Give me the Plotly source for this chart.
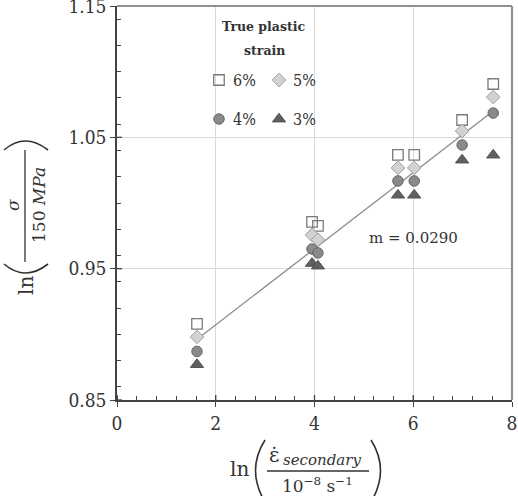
import plotly.graph_objects as go

# ---------------- data ----------------
rate_x = [1.62, 3.95, 4.07, 5.69, 6.02, 6.99, 7.62]
strain6 = [0.908, 0.9856, 0.9826, 1.0366, 1.0366, 1.0632, 1.0906]
strain5 = [0.898, 0.9757, 0.9720, 1.0267, 1.0267, 1.0548, 1.0807]
strain4 = [0.887, 0.9650, 0.9620, 1.0168, 1.0168, 1.0442, 1.0685]
strain3 = [0.877, 0.9540, 0.9520, 1.0060, 1.0060, 1.0327, 1.0365]
fit_x = [1.68, 7.62]
fit_y = [0.898, 1.070]
slope_label = "m = 0.0290"
x_ticks = [0, 2, 4, 6, 8]
y_ticks = [0.85, 0.95, 1.05, 1.15]
legend_labels = ["6%", "5%", "4%", "3%"]

# ---------------- layout geometry ----------------
W, H = 518, 496
L, R, T, B = 117, 6, 6, 96
PW, PH = W - L - R, H - T - B
FONT = "DejaVu Serif"
TICKFONT = "DejaVu Serif Condensed, DejaVu Serif"
TXT = "#333333"


def px(x):
    return (x - L) / PW


def py(y):
    return (H - B - y) / PH


def note(x, y, text, size, angle=0, anchor="center", family=FONT):
    fig.add_annotation(x=px(x), y=py(y), xref="paper", yref="paper", text=text,
                       showarrow=False, xanchor=anchor, yanchor="middle", textangle=angle,
                       font=dict(family=family, size=size, color=TXT))


fig = go.Figure()

fig.add_trace(go.Scatter(x=fit_x, y=fit_y, mode="lines",
                         line=dict(color="#8c8c8c", width=1.3),
                         showlegend=False, hoverinfo="skip"))

styles = [
    dict(symbol="square-open", size=10.5, color="#7a7a7a", line=dict(color="#7a7a7a", width=1.3)),
    dict(symbol="diamond", size=10.5, color="#d2d2d2", line=dict(color="#a0a0a0", width=1)),
    dict(symbol="circle", size=10.5, color="#8a8a8a", line=dict(color="#666666", width=1)),
    dict(symbol="triangle-up", size=11.5, color="#606060", line=dict(color="#505050", width=1)),
]
for ys, st, lab in zip([strain6, strain5, strain4, strain3], styles, legend_labels):
    fig.add_trace(go.Scatter(x=rate_x, y=ys, mode="markers", marker=st,
                             name=lab, showlegend=False))

# legend symbols (layout decoration) on an overlay axis in paper units
leg_pos = [(219, 80), (279, 80), (219, 119), (279, 119)]
for (lx, ly), st, lab in zip(leg_pos, styles, legend_labels):
    fig.add_trace(go.Scatter(x=[px(lx)], y=[py(ly)], mode="markers", marker=st,
                             xaxis="x2", yaxis="y2", showlegend=False, hoverinfo="skip"))
    note(lx + 12, ly, lab, 16, anchor="left", family=TICKFONT)

note(264, 26, "<b>True plastic</b>", 12.5)
note(264, 50, "<b>strain</b>", 12.5)
note(413, 238, slope_label, 15)

# ---------------- axes ----------------
common = dict(showline=True, linecolor="#444444", linewidth=1.5, zeroline=False,
              showgrid=True, gridcolor="#d9d9d9", gridwidth=1,
              ticks="outside", ticklen=5, tickwidth=1.3, tickcolor="#444444",
              ticklabeloverflow="allow", automargin=False,
              tickfont=dict(family=TICKFONT, size=19, color=TXT))
fig.update_layout(
    xaxis=dict(range=[0, 8.0001], tickvals=x_ticks, ticktext=[str(v) for v in x_ticks],
               minor=dict(dtick=0.4, ticks="inside", ticklen=4, tickcolor="#444444",
                          tickwidth=1, showgrid=False),
               **common),
    yaxis=dict(range=[0.85, 1.15001], tickvals=y_ticks,
               ticktext=[f"{v:.2f}" for v in y_ticks],
               minor=dict(dtick=0.02, ticks="inside", ticklen=4, tickcolor="#444444",
                          tickwidth=1, showgrid=False),
               **common),
    xaxis2=dict(overlaying="x", range=[0, 1], showgrid=False, showline=False,
                showticklabels=False, ticks="", zeroline=False, automargin=False),
    yaxis2=dict(overlaying="y", range=[0, 1], showgrid=False, showline=False,
                showticklabels=False, ticks="", zeroline=False, automargin=False),
    width=W, height=H,
    margin=dict(l=L, r=R, t=T, b=B, autoexpand=False),
    plot_bgcolor="white", paper_bgcolor="white",
    showlegend=False,
)

# inner halves of major ticks (cross ticks)
shapes = []
for v in x_ticks:
    shapes.append(dict(type="line", xref="x", yref="paper", x0=v, x1=v, y0=0, y1=py(400 - 5),
                       line=dict(color="#444444", width=1.3)))
for v in y_ticks:
    shapes.append(dict(type="line", xref="paper", yref="y", x0=0, x1=px(L + 5), y0=v, y1=v,
                       line=dict(color="#444444", width=1.3)))
# top / right frame
shapes.append(dict(type="line", xref="paper", yref="paper", x0=0, x1=1, y0=1, y1=1,
                   line=dict(color="#8f8f8f", width=2.2)))
shapes.append(dict(type="line", xref="paper", yref="paper", x0=1, x1=1, y0=0, y1=1,
                   line=dict(color="#8f8f8f", width=2.2)))

# ---------------- x-axis title: ln( eps_dot_secondary / 10^-8 s^-1 ) ----------------
note(239, 469, "ln", 20)
note(274, 455, "ε̇", 20)
note(322, 460, "<i>secondary</i>", 15)
note(317, 485, "10<sup>−8</sup> s<sup>−1</sup>", 17)
shapes.append(dict(type="line", xref="paper", yref="paper", x0=px(267), x1=px(369),
                   y0=py(471), y1=py(471), line=dict(color=TXT, width=1.3)))
shapes.append(dict(type="path", xref="paper", yref="paper",
                   path=f"M {px(265)} {py(440)} Q {px(246)} {py(470)} {px(265)} {py(502)}",
                   line=dict(color=TXT, width=1.6)))
shapes.append(dict(type="path", xref="paper", yref="paper",
                   path=f"M {px(371)} {py(440)} Q {px(390)} {py(470)} {px(371)} {py(502)}",
                   line=dict(color=TXT, width=1.6)))

# ---------------- y-axis title: ln( sigma / 150 MPa ), rotated ----------------
note(26, 286, "ln", 20, angle=-90)
note(13, 205, "<i>σ</i>", 17, angle=-90)
note(39, 205, "150 <i>MPa</i>", 17, angle=-90)
shapes.append(dict(type="line", xref="paper", yref="paper", x0=px(25), x1=px(25),
                   y0=py(150), y1=py(262), line=dict(color=TXT, width=1.3)))
shapes.append(dict(type="path", xref="paper", yref="paper",
                   path=f"M {px(4)} {py(264)} Q {px(25)} {py(282)} {px(48)} {py(264)}",
                   line=dict(color=TXT, width=1.6)))
shapes.append(dict(type="path", xref="paper", yref="paper",
                   path=f"M {px(4)} {py(150)} Q {px(25)} {py(132)} {px(48)} {py(150)}",
                   line=dict(color=TXT, width=1.6)))

fig.update_layout(shapes=shapes)
fig.write_html("out.html")
